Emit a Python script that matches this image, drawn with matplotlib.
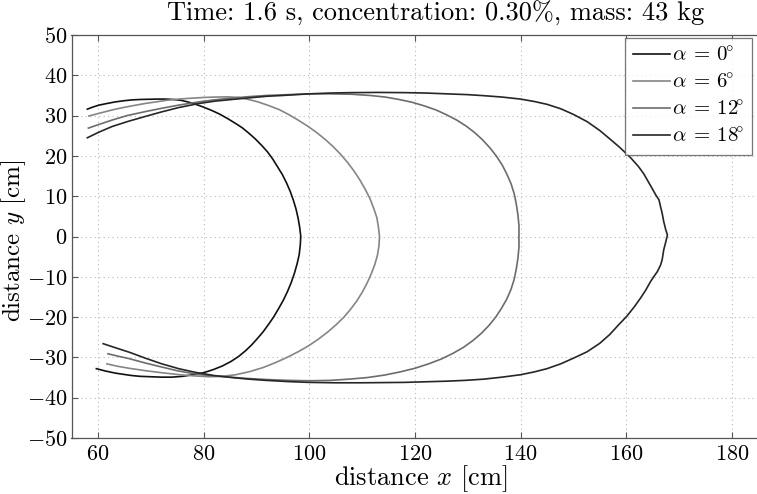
import matplotlib
matplotlib.use("Agg")
import matplotlib.pyplot as plt

plt.rcParams['font.family'] = ['cmr10', 'DejaVu Serif']
plt.rcParams['mathtext.fontset'] = 'cm'
plt.rcParams['axes.formatter.use_mathtext'] = True
plt.rcParams['axes.unicode_minus'] = True

# ---- data ----
labels = [r'$\alpha\:=\:0\!^{\circ}$', r'$\alpha\:=\:6\!^{\circ}$',
          r'$\alpha\:=\:12\!^{\circ}$', r'$\alpha\:=\:18\!^{\circ}$']

x0 = [58.0, 59.0, 60.2, 61.7, 63.3, 65.0, 66.5, 68.0, 69.7, 71.3, 72.8, 74.3, 75.7, 77.0, 78.3, 80.0, 81.5, 83.0,
      84.5, 86.0, 87.3, 88.6, 89.8, 91.0, 92.1, 93.1, 94.0, 94.9, 95.7, 96.4, 97.0, 97.5, 97.9, 98.2, 98.4,
      98.3, 98.1, 97.7, 97.2, 96.6, 95.9, 95.1, 94.2, 93.3, 92.3, 91.3, 90.2, 89.1, 87.9, 86.6, 85.2, 83.6, 81.9,
      80.0, 78.0, 76.0, 74.0, 72.0, 70.0, 68.0, 66.4, 64.8, 63.3, 61.5, 59.7]
y0 = [31.6, 32.1, 32.6, 33.0, 33.4, 33.7, 33.9, 34.0, 34.05, 34.1, 34.1, 34.0, 33.8, 33.4, 32.9, 32.1, 31.3, 30.4,
      29.3, 28.1, 27.0, 25.6, 24.2, 22.6, 21.0, 19.2, 17.3, 15.4, 13.3, 11.2, 9.0, 6.8, 4.5, 2.2, 0.0,
      -2.2, -4.5, -6.8, -9.1, -11.4, -13.6, -15.8, -17.9, -19.9, -21.8, -23.6, -25.3, -26.9, -28.4, -29.8, -31.0,
      -32.1, -33.0, -33.8, -34.3, -34.7, -34.9, -34.9, -34.8, -34.7, -34.5, -34.2, -33.9, -33.4, -32.8]

x1 = [58.3, 60.0, 61.5, 63.0, 64.8, 66.8, 68.9, 71.0, 73.0, 75.3, 77.5, 80.0, 82.2, 84.5, 86.7, 88.5, 90.3, 92.3,
      94.3, 96.2, 98.0, 99.8, 101.5, 103.1, 104.6, 106.0, 107.3, 108.5, 109.6, 110.6, 111.5, 112.2, 112.8, 113.1,
      113.3, 113.2, 112.9, 112.4, 111.7, 110.9, 110.0, 109.0, 107.8, 106.5, 105.0, 103.4, 101.7, 99.9, 97.9, 95.8,
      93.6, 91.3, 88.8, 86.1, 83.5, 81.0, 78.4, 75.5, 72.1, 69.0, 65.9, 63.7, 61.7]
y1 = [29.9, 30.5, 31.0, 31.5, 32.0, 32.5, 33.0, 33.4, 33.8, 34.1, 34.3, 34.5, 34.6, 34.65, 34.5, 34.0, 33.4, 32.5,
      31.5, 30.2, 28.8, 27.3, 25.7, 24.0, 22.2, 20.3, 18.3, 16.2, 14.0, 11.7, 9.4, 7.0, 4.7, 2.3,
      0.0, -2.3, -4.7, -7.0, -9.4, -11.7, -13.9, -16.0, -18.1, -20.1, -22.0, -23.8, -25.5, -27.1, -28.6, -30.0,
      -31.3, -32.5, -33.5, -34.3, -34.7, -34.8, -34.6, -34.3, -33.8, -33.3, -32.7, -32.2, -31.6]

x2 = [58.2, 60.2, 62.7, 65.5, 69.0, 72.0, 75.3, 79.1, 82.0, 85.0, 88.5, 92.0, 96.0, 100.0, 104.0, 108.0, 111.5,
      114.4, 117.0, 119.5, 121.8, 124.0, 126.0, 127.9, 129.7, 131.3, 132.8, 134.2, 135.4, 136.5, 137.4, 138.2,
      138.8, 139.2, 139.5, 139.7, 139.7, 139.7, 139.5, 139.2, 138.8, 138.2, 137.4, 136.4, 135.3, 134.0, 132.6,
      131.0, 129.2, 127.2, 125.0, 122.6, 120.0, 117.2, 114.2, 111.0, 107.5, 104.0, 100.0, 96.0, 92.0, 88.0, 84.0,
      81.0, 78.4, 75.0, 72.1, 69.0, 65.9, 63.8, 61.9]
y2 = [26.9, 27.8, 28.9, 30.0, 31.0, 31.8, 32.6, 33.4, 33.9, 34.3, 34.7, 35.0, 35.2, 35.4, 35.4, 35.3, 35.0,
      34.6, 34.0, 33.3, 32.4, 31.4, 30.2, 28.9, 27.4, 25.8, 24.0, 22.0, 20.0, 17.8, 15.5, 13.1,
      10.6, 8.0, 5.4, 2.7, 0.0, -2.7, -5.4, -8.0, -10.6, -13.1, -15.5, -17.8, -20.0, -22.1, -24.0,
      -25.8, -27.5, -29.0, -30.4, -31.6, -32.7, -33.6, -34.4, -35.0, -35.4, -35.7, -35.8, -35.7, -35.5, -35.2, -34.8,
      -34.5, -34.1, -33.3, -32.4, -31.4, -30.3, -29.7, -29.1]

x3 = [58.0, 60.2, 62.7, 65.8, 69.0, 72.0, 75.3, 79.1, 82.2, 85.4, 88.6, 92.0, 95.0, 100.0, 104.0, 108.0, 113.0,
      118.0, 122.0, 126.0, 130.0, 133.0, 136.5, 140.0, 142.6, 145.0, 147.6, 150.0, 152.6, 155.0, 157.0, 158.7,
      160.8, 162.3, 163.3, 164.0, 164.7, 165.6, 166.2, 166.5, 166.8, 167.1, 167.5, 167.8,
      167.5, 167.1, 166.8, 166.5, 165.9, 165.2, 164.6, 163.7, 162.7, 161.5, 160.1, 158.5, 156.9, 155.0, 152.6,
      150.0, 147.6, 145.0, 142.6, 140.0, 136.5, 133.0, 129.5, 126.0, 122.0, 118.0, 114.0, 110.0, 105.0, 100.0,
      96.0, 91.8, 88.6, 85.4, 82.0, 78.4, 75.3, 72.1, 69.0, 65.9, 63.3, 61.0]
y3 = [24.5, 25.9, 27.3, 28.6, 29.8, 30.9, 32.0, 33.0, 33.6, 34.0, 34.4, 34.8, 35.0, 35.4, 35.6, 35.7, 35.75,
      35.7, 35.6, 35.4, 35.2, 34.95, 34.6, 34.1, 33.5, 32.8, 31.7, 30.3, 28.5, 26.3, 24.1, 22.2,
      19.6, 17.4, 15.6, 14.0, 12.4, 10.3, 9.1, 7.4, 5.8, 3.7, 1.6, 0.4,
      -1.3, -3.3, -5.8, -7.1, -8.7, -10.0, -11.2, -13.3, -15.3, -17.5, -19.8, -22.0, -24.3, -26.5, -28.6,
      -30.2, -31.6, -32.8, -33.6, -34.3, -34.9, -35.4, -35.7, -35.9, -36.05, -36.2, -36.25, -36.3, -36.3, -36.2,
      -36.0, -35.7, -35.4, -35.0, -34.5, -33.7, -32.8, -31.6, -30.2, -28.7, -27.6, -26.6]

xs = [x0, x1, x2, x3]
ys = [y0, y1, y2, y3]
colors = ['#111111', '#858585', '#6c6c6c', '#262626']

xticks = [60, 80, 100, 120, 140, 160, 180]
yticks = [-50, -40, -30, -20, -10, 0, 10, 20, 30, 40, 50]

W, H = 757, 494
fig = plt.figure(figsize=(W / 100, H / 100), dpi=100)
left, right, top, bottom = 71.5, 784.7, 35, 438
ax = fig.add_axes([left / W, 1 - bottom / H, (right - left) / W, (bottom - top) / H])

handles = []
for xv, yv, c, lab in zip(xs, ys, colors, labels):
    h, = ax.plot(xv, yv, color=c, lw=1.2, label=lab)
    handles.append(h)

ax.set_xlim(55, 190)
ax.set_ylim(-50, 50)
ax.set_xticks(xticks)
ax.set_yticks(yticks)
ax.grid(True, color='#b8b8b8', linestyle=(0, (1, 3)), lw=0.8)
for s in ax.spines.values():
    s.set_color('#555555')
    s.set_linewidth(0.9)
ax.tick_params(direction='in', length=4, width=0.8, color='#555555', top=True, right=True,
               labelsize=16)
ax.tick_params(axis='x', pad=5)
ax.tick_params(axis='y', pad=3)

ax.set_xlabel(r'distance $x$ [cm]', fontsize=19)
ax.xaxis.set_label_coords((421 - left) / (right - left), -0.062)
ax.set_ylabel(r'distance $y$ [cm]', fontsize=18)
ax.yaxis.set_label_coords((28 - left) / (right - left), 0.49)

fig.text(436 / W, 1 - 13 / H, 'Time: 1.6 s, concentration: 0.30%, mass: 43 kg',
         ha='center', va='center', fontsize=19)

leg = fig.legend(handles=handles, loc='upper right', bbox_to_anchor=(752 / W, 1 - 38 / H),
                 fontsize=15, frameon=True, fancybox=False, handlelength=1.75, handletextpad=0.1,
                 labelspacing=0.38, borderpad=0.38, borderaxespad=0)
leg.get_frame().set_edgecolor('#555555')
leg.get_frame().set_linewidth(0.9)

fig.savefig('out.png', dpi=100)
